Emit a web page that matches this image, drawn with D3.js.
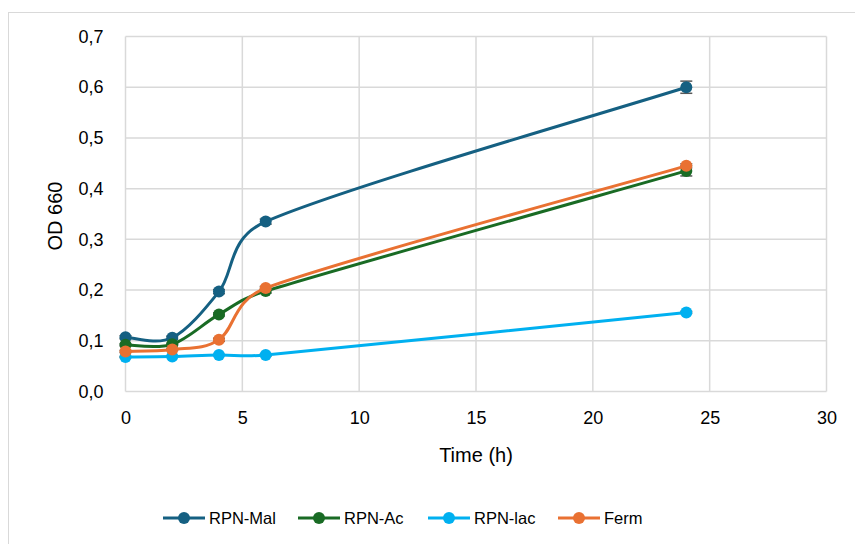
<!DOCTYPE html>
<html>
<head>
<meta charset="utf-8">
<script src="https://cdn.jsdelivr.net/npm/d3@7"></script>
<style>
  body { margin: 0; background: #fff; }
  text { font-family: "Liberation Sans", Arial, sans-serif; fill: #000; }
</style>
</head>
<body>
<div id="main"></div>
<script>
// data
var times = [0, 2, 4, 6, 24];
var seriesNames = ["RPN-Mal", "RPN-Ac", "RPN-lac", "Ferm"];
var malValues = [0.107, 0.106, 0.197, 0.335, 0.600];
var acValues = [0.092, 0.093, 0.152, 0.198, 0.435];
var lacValues = [0.068, 0.069, 0.072, 0.072, 0.156];
var fermValues = [0.079, 0.083, 0.102, 0.204, 0.445];
var malErr = [0.003, 0.003, 0.004, 0.005, 0.012];
var acErr = [0.002, 0.002, 0.003, 0.004, 0.010];
var lacErr = [0.001, 0.001, 0.001, 0.002, 0.002];
var fermErr = [0.002, 0.002, 0.003, 0.003, 0.004];
var colors = ["#156082", "#196b24", "#00b0f0", "#e97132"];
var xTicks = [0, 5, 10, 15, 20, 25, 30];
var yTicks = [0, 0.1, 0.2, 0.3, 0.4, 0.5, 0.6, 0.7];

function transform(x, y) {
  return "translate(" + x + "," + y + ")";
}

// excel-ish smoothed line: catmull-rom handles (1/6), clamped to half the segment
function smoothPath(pts) {
  var p = d3.path();
  var n = pts.length;
  var tan = pts.map(function(d, i) {
    var a = pts[Math.max(i - 1, 0)], b = pts[Math.min(i + 1, n - 1)];
    return [(b[0] - a[0]) / 6, (b[1] - a[1]) / 6];
  });
  function clamp(t, len) {
    var l = Math.hypot(t[0], t[1]);
    var max = len * 0.5;
    return l > max ? [t[0] * max / l, t[1] * max / l] : t;
  }
  p.moveTo(pts[0][0], pts[0][1]);
  for (var i = 0; i < n - 1; i++) {
    var a = pts[i], b = pts[i + 1];
    var len = Math.hypot(b[0] - a[0], b[1] - a[1]);
    var t1 = clamp(tan[i], len), t2 = clamp(tan[i + 1], len);
    p.bezierCurveTo(a[0] + t1[0], a[1] + t1[1], b[0] - t2[0], b[1] - t2[1], b[0], b[1]);
  }
  return p.toString();
}

var W = 855, H = 544;
var svg = d3.select("#main").append("svg").attr("width", W).attr("height", H);

// chart frame (runs off the right / bottom of the picture)
svg.append("rect")
  .attr("x", 8.5).attr("y", 12.5).attr("width", 900).attr("height", 600)
  .attr("fill", "#fff").attr("stroke", "#d9d9d9").attr("stroke-width", 1);

var x = d3.scaleLinear().domain([0, 30]).range([125.5, 826.5]);
var y = d3.scaleLinear().domain([0, 0.7]).range([391.5, 36.5]);

var grid = svg.append("g");
grid.selectAll("line.h").data(yTicks).enter().append("line")
  .attr("x1", x(0)).attr("x2", x(30))
  .attr("y1", function(d) { return y(d); }).attr("y2", function(d) { return y(d); })
  .attr("stroke", "#d9d9d9").attr("stroke-width", 1.5);
grid.selectAll("line.v").data(xTicks).enter().append("line")
  .attr("y1", y(0)).attr("y2", y(0.7))
  .attr("x1", function(d) { return x(d); }).attr("x2", function(d) { return x(d); })
  .attr("stroke", "#d9d9d9").attr("stroke-width", 1.5);

// axes, only for labels
var fmt = function(d) { return d3.format(".1f")(d).replace(".", ","); };
var yAxis = svg.append("g").attr("transform", transform(x(0), 0))
  .call(d3.axisLeft(y).tickValues(yTicks).tickFormat(fmt).tickSize(0).tickPadding(22));
var xAxis = svg.append("g").attr("transform", transform(0, y(0)))
  .call(d3.axisBottom(x).tickValues(xTicks).tickSize(0).tickPadding(20));
[yAxis, xAxis].forEach(function(a) {
  a.select(".domain").remove();
  a.selectAll("text").attr("font-size", 18).attr("fill", "#000")
    .style("font-family", "'Liberation Sans', Arial, sans-serif");
});

svg.append("text").attr("x", 476).attr("y", 462).attr("text-anchor", "middle")
  .attr("font-size", 20).text("Time (h)");
svg.append("text").attr("transform", transform(62, 216) + " rotate(-90)")
  .attr("text-anchor", "middle").attr("font-size", 20).text("OD 660");

var allValues = [malValues, acValues, lacValues, fermValues];
var allErr = [malErr, acErr, lacErr, fermErr];

var series = seriesNames.map(function(name, i) {
  return {
    name: name, color: colors[i],
    points: times.map(function(t, j) { return { t: t, v: allValues[i][j], e: allErr[i][j] }; })
  };
});

var groups = svg.selectAll("g.series").data(series).enter().append("g").attr("class", "series");

// error bars
groups.each(function(s) {
  var g = d3.select(this);
  var eb = g.selectAll("g.err").data(s.points).enter().append("g");
  eb.append("line")
    .attr("x1", function(d) { return x(d.t); }).attr("x2", function(d) { return x(d.t); })
    .attr("y1", function(d) { return y(d.v - d.e); }).attr("y2", function(d) { return y(d.v + d.e); })
    .attr("stroke", "#595959").attr("stroke-width", 1.5);
  eb.selectAll("line.cap").data(function(d) { return [d.v - d.e, d.v + d.e].map(function(v) { return { t: d.t, v: v }; }); })
    .enter().append("line")
    .attr("x1", function(d) { return x(d.t) - 6; }).attr("x2", function(d) { return x(d.t) + 6; })
    .attr("y1", function(d) { return y(d.v); }).attr("y2", function(d) { return y(d.v); })
    .attr("stroke", "#595959").attr("stroke-width", 1.5);
});

groups.append("path")
  .attr("d", function(s) { return smoothPath(s.points.map(function(d) { return [x(d.t), y(d.v)]; })); })
  .attr("fill", "none")
  .attr("stroke", function(s) { return s.color; })
  .attr("stroke-width", 3);

groups.selectAll("circle").data(function(s) { return s.points.map(function(p) { p.c = s.color; return p; }); })
  .enter().append("circle")
  .attr("cx", function(d) { return x(d.t); })
  .attr("cy", function(d) { return y(d.v); })
  .attr("r", 6)
  .attr("fill", function(d) { return d.c; });

// legend
var legendX = [163, 298, 428, 558];
var legend = svg.selectAll("g.legend").data(series).enter().append("g")
  .attr("transform", function(d, i) { return transform(legendX[i], 518); });
legend.append("line").attr("x1", 0).attr("x2", 42).attr("y1", 0).attr("y2", 0)
  .attr("stroke", function(d) { return d.color; }).attr("stroke-width", 3);
legend.append("circle").attr("cx", 21).attr("cy", 0).attr("r", 6)
  .attr("fill", function(d) { return d.color; });
legend.append("text").attr("x", 46).attr("y", 6).attr("font-size", 16.5)
  .text(function(d) { return d.name; });
</script>
</body>
</html>
